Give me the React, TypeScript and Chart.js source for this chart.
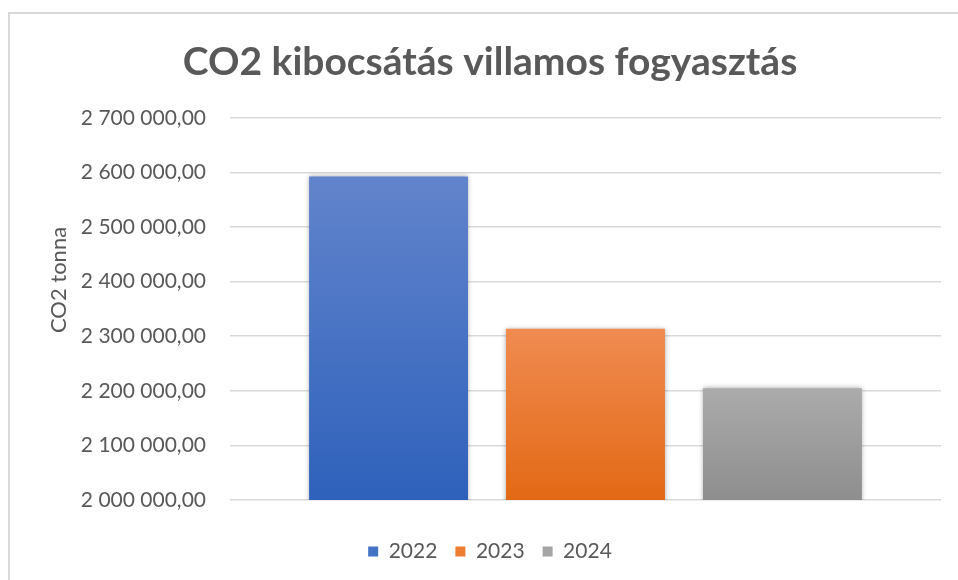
import React, { useEffect, useRef } from "react";
import { Chart, registerables } from "chart.js";

Chart.register(...registerables);

const chartTitle = "CO2 kibocsátás villamos fogyasztás";
const yAxisTitle = "CO2 tonna";
const categories = [""];
const seriesNames = ["2022", "2023", "2024"];
const values2022 = [2592500];
const values2023 = [2313600];
const values2024 = [2204800];
const yMin = 2000000;
const yMax = 2700000;
const yStep = 100000;

const legendColors = ["#4472c4", "#ed7d31", "#a5a5a5"];
const gradientTops = ["#6284cc", "#f08b51", "#ababab"];
const gradientBottoms = ["#2e61bb", "#e36915", "#8e8e8e"];

const FONT = "Lato, 'Open Sans', sans-serif";
const TEXT = "#595959";

function fmt(v: number): string {
  const s = Math.round(v).toString().replace(/\B(?=(\d{3})+(?!\d))/g, " ");
  return s + ",00";
}

function gradientFill(i: number) {
  return (ctx: any) => {
    const chart = ctx.chart;
    const area = chart.chartArea;
    if (!area || typeof ctx.raw !== "number" || !chart.scales.y) return legendColors[i];
    const top = chart.scales.y.getPixelForValue(ctx.raw);
    const g = chart.ctx.createLinearGradient(0, top, 0, area.bottom);
    g.addColorStop(0, gradientTops[i]);
    g.addColorStop(1, gradientBottoms[i]);
    return g;
  };
}

const shadowPlugin = {
  id: "barShadow",
  beforeDatasetsDraw(chart: any) {
    const c = chart.ctx;
    c.save();
    c.shadowColor = "rgba(0,0,0,0.35)";
    c.shadowBlur = 5;
    c.shadowOffsetX = 0;
    c.shadowOffsetY = 0;
  },
  afterDatasetsDraw(chart: any) {
    chart.ctx.restore();
  },
};

const yTitlePlugin = {
  id: "yTitleCustom",
  afterDraw(chart: any) {
    const c = chart.ctx;
    c.save();
    c.translate(59, 280);
    c.rotate(-Math.PI / 2);
    c.font = `22px ${FONT}`;
    c.fillStyle = TEXT;
    c.textAlign = "center";
    c.textBaseline = "middle";
    c.fillText(yAxisTitle, 0, 0);
    c.restore();
  },
};

export default function App() {
  const ref = useRef<HTMLCanvasElement>(null);
  useEffect(() => {
    if (!ref.current) return;
    const seriesValues = [values2022, values2023, values2024];
    const chart = new Chart(ref.current, {
      type: "bar",
      data: {
        labels: categories,
        datasets: seriesNames.map((name, i) => ({
          label: name,
          data: seriesValues[i],
          backgroundColor: gradientFill(i),
          borderWidth: 0,
          categoryPercentage: 0.831,
          barPercentage: 0.807,
        })),
      },
      options: {
        responsive: false,
        animation: false,
        devicePixelRatio: 1,
        layout: { padding: { left: 39, right: 17, top: 0, bottom: 8 } },
        plugins: {
          title: {
            display: true,
            text: chartTitle,
            color: TEXT,
            font: { family: FONT, size: 39, weight: "bold" },
            padding: { top: 39, bottom: 32 },
          },
          legend: {
            display: true,
            position: "bottom",
            labels: {
              color: TEXT,
              font: { family: FONT, size: 21 },
              boxWidth: 10,
              boxHeight: 10,
              padding: 18,
              generateLabels: (chart: any) =>
                chart.data.datasets.map((ds: any, i: number) => ({
                  text: ds.label,
                  fillStyle: legendColors[i],
                  strokeStyle: legendColors[i],
                  lineWidth: 0,
                  hidden: false,
                  datasetIndex: i,
                  fontColor: TEXT,
                })),
            },
          },
          tooltip: { enabled: false },
        },
        scales: {
          x: {
            display: true,
            grid: { display: false, drawTicks: false },
            border: { display: false },
            ticks: { display: false },
            afterFit: (scale: any) => {
              scale.height = 23;
            },
          },
          y: {
            min: yMin,
            max: yMax,
            grid: { color: "#d9d9d9", lineWidth: 1.5, drawTicks: false },
            border: { display: false },
            ticks: {
              stepSize: yStep,
              color: TEXT,
              padding: 24,
              font: { family: FONT, size: 21 },
              callback: (v: any) => fmt(Number(v)),
            },
            afterFit: (scale: any) => {
              scale.width = 191;
            },
          },
        },
      },
      plugins: [shadowPlugin, yTitlePlugin],
    } as any);
    return () => chart.destroy();
  }, []);

  return (
    <div
      style={{
        position: "fixed",
        left: 0,
        top: 0,
        width: 958,
        height: 580,
        overflow: "hidden",
        background: "#ffffff",
      }}
    >
      <div
        style={{
          position: "absolute",
          left: 8,
          top: 12,
          width: 1000,
          height: 700,
          borderLeft: "2px solid #d9d9d9",
          borderTop: "2px solid #d9d9d9",
        }}
      />
      <canvas
        ref={ref}
        width={958}
        height={580}
        style={{ position: "absolute", left: 0, top: 0, width: 958, height: 580 }}
      />
    </div>
  );
}
